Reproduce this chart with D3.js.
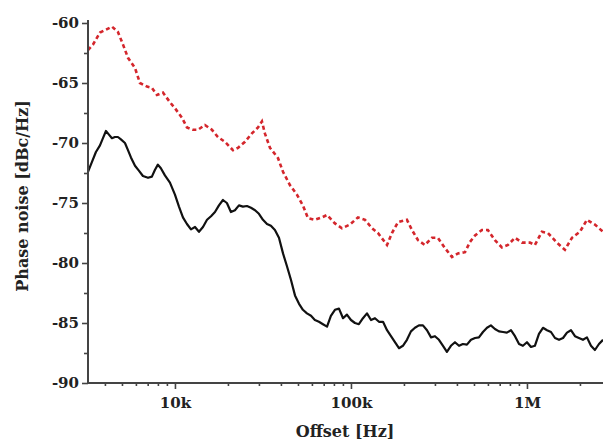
<!DOCTYPE html>
<html>
<head>
<meta charset="utf-8">
<script src="https://cdn.jsdelivr.net/npm/d3@7/dist/d3.min.js"></script>
<style>
  html, body { margin: 0; padding: 0; background: #fff; }
  svg { display: block; }
  text { font-family: "DejaVu Serif", "Liberation Serif", serif; fill: #222; }
</style>
</head>
<body>
<svg id="chart" width="603" height="443"></svg>
<script>
// ---- data ----
const blackFreq = [3206,3373,3556,3750,3899,4055,4217,4385,4560,4742,4932,5200,5408,5623,5929,6237,6577,7031,7396,7691,7998,8318,8770,9366,10000,10540,11100,11700,12330,13000,13690,14430,15210,16030,16880,17780,18740,19730,20800,21920,23100,24330,25650,27040,28510,30000,31620,33340,35090,36980,38990,41110,43250,45600,48080,50700,53330,56230,59290,62370,65770,69340,73110,76910,81100,85500,90150,94840,100000,105400,110900,117000,123300,130000,136900,144300,152100,160300,168800,177800,187400,197300,208000,219200,231000,243300,256500,270400,285100,300000,316200,333400,350900,369800,389900,411100,432500,456000,480800,507000,533300,562300,592900,623700,657700,693400,731100,769100,811000,855000,901500,948400,1000000,1054000,1109000,1170000,1233000,1300000,1369000,1443000,1521000,1603000,1688000,1778000,1874000,1973000,2080000,2192000,2310000,2433000,2565000,2704000];
const blackNoise = [-72.4,-71.6,-70.75,-70.2,-69.6,-69.0,-69.3,-69.6,-69.5,-69.5,-69.7,-70.0,-70.6,-71.2,-71.9,-72.3,-72.75,-72.9,-72.8,-72.25,-71.8,-72.1,-72.7,-73.3,-74.3,-75.3,-76.2,-76.75,-77.2,-77.0,-77.4,-77.0,-76.4,-76.1,-75.75,-75.2,-74.75,-75.0,-75.75,-75.6,-75.2,-75.3,-75.25,-75.4,-75.6,-75.9,-76.4,-76.75,-76.9,-77.25,-77.9,-79.2,-80.25,-81.4,-82.7,-83.4,-83.9,-84.2,-84.4,-84.75,-84.9,-85.1,-85.3,-84.4,-83.9,-83.8,-84.6,-84.3,-84.75,-85.0,-85.1,-84.6,-84.2,-84.75,-84.6,-84.9,-84.9,-85.6,-86.1,-86.6,-87.1,-86.9,-86.4,-85.7,-85.4,-85.2,-85.2,-85.6,-86.2,-86.1,-86.4,-86.9,-87.4,-86.9,-86.6,-86.9,-86.75,-86.8,-86.4,-86.25,-86.2,-85.75,-85.4,-85.2,-85.5,-85.7,-85.75,-85.8,-85.6,-86.1,-86.75,-86.9,-86.6,-87.0,-86.9,-85.9,-85.4,-85.6,-85.75,-86.25,-86.4,-86.25,-85.8,-85.6,-86.1,-86.25,-86.4,-86.2,-86.9,-87.25,-86.75,-86.4];

const redFreq = [3206,3420,3750,4000,4385,4742,5070,5408,5929,6325,6937,7396,7907,8551,9366,10000,10960,11700,12650,13510,14800,16220,17540,19220,21370,22820,25000,27380,29650,31200,32430,34670,38480,41110,44980,49320,53330,56990,62370,68370,73110,81100,88890,98630,109600,120200,131600,142300,160300,171000,185000,208000,222200,240400,263000,288400,311900,341800,374900,405500,444600,474300,507000,554600,599800,657700,720600,779800,855000,937600,1040000,1109000,1216000,1315000,1479000,1643000,1802000,2000000,2192000,2433000,2704000];
const redNoise = [-62.25,-61.8,-60.8,-60.6,-60.3,-60.75,-61.8,-62.9,-63.75,-65.0,-65.3,-65.4,-66.0,-65.8,-66.6,-67.1,-67.9,-68.7,-68.9,-68.9,-68.5,-68.9,-69.5,-69.9,-70.6,-70.4,-69.9,-69.2,-68.7,-68.2,-69.2,-70.4,-71.25,-72.4,-73.5,-74.3,-75.2,-76.25,-76.4,-76.2,-76.0,-76.7,-77.1,-76.8,-76.2,-76.4,-77.1,-77.5,-78.5,-77.5,-76.6,-76.4,-77.25,-78.1,-78.5,-77.9,-77.9,-78.75,-79.5,-79.2,-79.1,-78.25,-77.7,-77.25,-77.25,-78.1,-78.7,-78.5,-77.9,-78.3,-78.3,-78.5,-77.4,-77.5,-78.3,-78.9,-77.9,-77.4,-76.4,-76.8,-77.4];

const yTickValues = [-90,-85,-80,-75,-70,-65,-60];
const yTickLabels = ["-90","-85","-80","-75","-70","-65","-60"];
const yMinorValues = [-87.5,-82.5,-77.5,-72.5,-67.5,-62.5];
const xTickValues = [10000,100000,1000000];
const xTickLabels = ["10k","100k","1M"];
const xDomain = [3206, 2704000];
const yDomain = [-90, -60];

// ---- layout ----
const svg = d3.select("#chart");
const mLeft = 88, mRight = 603, mTop = 23, mBottom = 383;

const x = d3.scaleLog().domain(xDomain).range([mLeft, mRight]);
const y = d3.scaleLinear().domain(yDomain).range([mBottom, mTop]);

const xMinor = [];
for (let dec = 1000; dec <= 1000000; dec *= 10) {
  for (let m = 2; m <= 9; m++) {
    const v = dec * m;
    if (v > xDomain[0] && v < xDomain[1]) xMinor.push(v);
  }
}

svg.append("clipPath").attr("id", "clip")
  .append("rect").attr("x", mLeft).attr("y", 0).attr("width", mRight - mLeft).attr("height", mBottom);

const line = d3.line().x(d => x(d[0])).y(d => y(d[1]));

svg.append("path")
  .datum(redFreq.map((f, i) => [f, redNoise[i]]))
  .attr("clip-path", "url(#clip)")
  .attr("d", line)
  .attr("fill", "none")
  .attr("stroke", "#d4262c")
  .attr("stroke-width", 2.6)
  .attr("stroke-dasharray", "4,3");

svg.append("path")
  .datum(blackFreq.map((f, i) => [f, blackNoise[i]]))
  .attr("clip-path", "url(#clip)")
  .attr("d", line)
  .attr("fill", "none")
  .attr("stroke", "#111")
  .attr("stroke-width", 2.2)
  .attr("stroke-linejoin", "round");

const axisColor = "#444";
const yAxis = svg.append("g").attr("transform", `translate(${mLeft},0)`)
  .call(d3.axisLeft(y).tickValues(yTickValues).tickSize(6).tickPadding(3)
    .tickFormat((d, i) => yTickLabels[i]));
yAxis.append("g").call(d3.axisLeft(y).tickValues(yMinorValues).tickSize(4).tickFormat(""))
  .select(".domain").remove();

const xAxis = svg.append("g").attr("transform", `translate(0,${mBottom})`)
  .call(d3.axisBottom(x).tickValues(xTickValues).tickSize(6).tickPadding(8)
    .tickFormat((d, i) => xTickLabels[i]));
xAxis.append("g").call(d3.axisBottom(x).tickValues(xMinor).tickSize(3).tickFormat(""))
  .select(".domain").remove();

[yAxis, xAxis].forEach(g => {
  g.selectAll(".domain").attr("stroke", axisColor).attr("stroke-width", 2);
  g.selectAll(".tick line").attr("stroke", axisColor).attr("stroke-width", 1.6);
  g.selectAll("text").attr("font-family", "DejaVu Serif, serif").attr("font-size", 15)
    .attr("font-weight", "bold").attr("fill", "#333");
});
yAxis.select(".domain").attr("d", `M0,${mTop - 3}V${mBottom}`);
xAxis.select(".domain").attr("d", `M${mLeft},0H${mRight}`);

svg.append("text")
  .attr("x", 345).attr("y", 437)
  .attr("text-anchor", "middle")
  .attr("font-size", 16).attr("font-weight", "bold").attr("fill", "#333")
  .text("Offset [Hz]");

svg.append("text")
  .attr("transform", "translate(28,196) rotate(-90)")
  .attr("text-anchor", "middle")
  .attr("font-size", 16).attr("font-weight", "bold").attr("fill", "#333")
  .text("Phase noise [dBc/Hz]");
</script>
</body>
</html>
